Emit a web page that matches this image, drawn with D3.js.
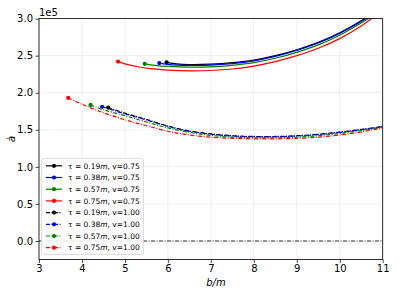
<!DOCTYPE html>
<html><head><meta charset="utf-8">
<script src="https://cdn.jsdelivr.net/npm/d3@7"></script>
<style>body{margin:0;background:#fff}svg{display:block}text{font-family:"DejaVu Sans",sans-serif}</style>
</head><body><svg id="c" width="399" height="299"></svg>
<script>
const xTicks = [3,4,5,6,7,8,9,10,11];
const yTicks = [0,0.5,1.0,1.5,2.0,2.5,3.0];
const yTickLabels = ["0.0","0.5","1.0","1.5","2.0","2.5","3.0"];
const colors = ["#000000","#0000ff","#008000","#ff0000"];
const tauLabels = ["0.19","0.38","0.57","0.75"];
const vLabels = ["0.75","1.00"];

// v = 0.75 (solid), values in units of 1e5
const bSolidK = [5.97,6.2,6.5,7.0,7.5,8.0,8.5,9.0,9.5,10.0,10.5,10.7];
const aSolidK = [2.41,2.39,2.38,2.385,2.405,2.44,2.50,2.58,2.68,2.81,2.97,3.05];
const bSolidB = [5.80,6.0,6.5,7.0,7.5,8.0,8.5,9.0,9.5,10.0,10.5,10.75];
const aSolidB = [2.40,2.382,2.368,2.373,2.393,2.43,2.49,2.57,2.67,2.80,2.96,3.05];
const bSolidG = [5.46,5.7,6.0,6.5,7.0,7.5,8.0,8.5,9.0,9.5,10.0,10.5,10.8];
const aSolidG = [2.39,2.37,2.355,2.345,2.35,2.37,2.405,2.465,2.545,2.645,2.775,2.94,3.05];
const bSolidR = [4.84,5.0,5.3,5.6,6.0,6.5,7.0,7.5,8.0,8.5,9.0,9.5,10.0,10.5,10.85];
const aSolidR = [2.42,2.39,2.35,2.325,2.305,2.295,2.30,2.32,2.36,2.42,2.50,2.60,2.73,2.90,3.05];

// v = 1.00 (dash-dot)
const bDashK = [4.61,5.0,5.5,6.0,6.5,7.0,7.5,8.0,8.5,9.0,9.5,10.0,10.5,11.0];
const aDashK = [1.80,1.725,1.64,1.55,1.485,1.445,1.42,1.41,1.41,1.42,1.44,1.47,1.505,1.545];
const bDashB = [4.47,5.0,5.5,6.0,6.5,7.0,7.5,8.0,8.5,9.0,9.5,10.0,10.5,11.0];
const aDashB = [1.81,1.715,1.632,1.545,1.48,1.44,1.415,1.405,1.405,1.415,1.435,1.465,1.50,1.542];
const bDashG = [4.20,4.5,5.0,5.5,6.0,6.5,7.0,7.5,8.0,8.5,9.0,9.5,10.0,10.5,11.0];
const aDashG = [1.835,1.77,1.69,1.605,1.525,1.465,1.425,1.40,1.392,1.392,1.40,1.42,1.45,1.488,1.535];
const bDashR = [3.68,4.0,4.5,5.0,5.5,6.0,6.5,7.0,7.5,8.0,8.5,9.0,9.5,10.0,10.5,11.0];
const aDashR = [1.93,1.845,1.73,1.635,1.555,1.48,1.43,1.40,1.385,1.378,1.378,1.385,1.40,1.43,1.47,1.525];

const solid = [[bSolidK,aSolidK],[bSolidB,aSolidB],[bSolidG,aSolidG],[bSolidR,aSolidR]];
const dash = [[bDashK,aDashK],[bDashB,aDashB],[bDashG,aDashG],[bDashR,aDashR]];

const svg = d3.select("#c");
const L=39, R=382.7, T=18.6, B=259.5;
const x = d3.scaleLinear().domain([3,11]).range([L,R]);
const y = d3.scaleLinear().domain([-0.25,3.0]).range([B,T]);

svg.append("defs").append("clipPath").attr("id","clip").append("rect")
  .attr("x",L).attr("y",T).attr("width",R-L).attr("height",B-T);

// grid
const g = svg.append("g");
g.selectAll(".gx").data(xTicks).enter().append("line")
  .attr("x1",d=>x(d)).attr("x2",d=>x(d)).attr("y1",T).attr("y2",B)
  .attr("stroke","#b0b0b0").attr("stroke-opacity",0.3).attr("stroke-width",0.7);
g.selectAll(".gy").data(yTicks).enter().append("line")
  .attr("y1",d=>y(d)).attr("y2",d=>y(d)).attr("x1",L).attr("x2",R)
  .attr("stroke","#b0b0b0").attr("stroke-opacity",0.3).attr("stroke-width",0.7);

const plot = svg.append("g").attr("clip-path","url(#clip)");
const line = d3.line().x(d=>x(d[0])).y(d=>y(d[1])).curve(d3.curveCatmullRom);
const dd = "4,1.5,1,1.5";

// zero line
plot.append("path").attr("d",line([[3,0],[11,0]])).attr("fill","none")
  .attr("stroke","#222").attr("stroke-width",0.9).attr("stroke-dasharray",dd);

function pts(s){return s[0].map((b,i)=>[b,s[1][i]]);}
solid.forEach((s,i)=>{
  const p=pts(s);
  plot.append("path").attr("d",line(p)).attr("fill","none").attr("stroke",colors[i]).attr("stroke-width",1.2);
  plot.append("circle").attr("cx",x(p[0][0])).attr("cy",y(p[0][1])).attr("r",2.1).attr("fill",colors[i]);
});
dash.forEach((s,i)=>{
  const p=pts(s);
  plot.append("path").attr("d",line(p)).attr("fill","none").attr("stroke",colors[i]).attr("stroke-width",1.2).attr("stroke-dasharray",dd);
  plot.append("circle").attr("cx",x(p[0][0])).attr("cy",y(p[0][1])).attr("r",2.1).attr("fill",colors[i]);
});

// axes
const xa = svg.append("g").attr("transform",`translate(0,${B})`)
  .call(d3.axisBottom(x).tickValues(xTicks).tickSize(3.5).tickPadding(2).tickFormat(d3.format("d")));
const ya = svg.append("g").attr("transform",`translate(${L},0)`)
  .call(d3.axisLeft(y).tickValues(yTicks).tickSize(3.5).tickPadding(2.5).tickFormat((d,i)=>yTickLabels[i]));
[xa,ya].forEach(a=>{a.select(".domain").remove();a.selectAll("text").attr("font-size",10).attr("fill","#000").attr("font-family","DejaVu Sans");a.selectAll("line").attr("stroke","#000").attr("stroke-width",0.7);});
svg.append("rect").attr("x",L).attr("y",T).attr("width",R-L).attr("height",B-T)
  .attr("fill","none").attr("stroke","#000").attr("stroke-width",0.8);

svg.append("text").attr("x",L).attr("y",T-3).attr("font-size",10).text("1e5");
svg.append("text").attr("x",216).attr("y",286).attr("text-anchor","middle").attr("font-size",10)
  .attr("font-style","italic").text("b/m");
svg.append("text").attr("transform",`translate(15,${(T+B)/2}) rotate(-90)`).attr("text-anchor","middle")
  .attr("font-size",10.5).attr("font-style","italic").text("ȧ");

// legend
const lg = svg.append("g");
const lx=41.5, ly=158.5, rowH=11.7;
lg.append("rect").attr("x",lx).attr("y",ly).attr("width",102).attr("height",96).attr("rx",2)
  .attr("fill","#fff").attr("fill-opacity",0.85).attr("stroke","#d0d0d0").attr("stroke-width",0.7);
const entries=[];
vLabels.forEach((v,vi)=>tauLabels.forEach((t,ti)=>entries.push({t,v,c:colors[ti],dash:vi===1})));
entries.forEach((e,i)=>{
  const yy = ly+7.3+i*rowH;
  lg.append("line").attr("x1",46).attr("x2",62).attr("y1",yy).attr("y2",yy).attr("stroke",e.c).attr("stroke-width",1.2)
    .attr("stroke-dasharray",e.dash?dd:null);
  lg.append("circle").attr("cx",54).attr("cy",yy).attr("r",2.1).attr("fill",e.c);
  const tx = lg.append("text").attr("x",68).attr("y",yy+2.7).attr("font-size",7.5);
  tx.append("tspan").text(`τ = ${e.t}`);
  tx.append("tspan").attr("font-style","italic").text("m");
  tx.append("tspan").text(`, v=${e.v}`);
});
</script></body></html>
